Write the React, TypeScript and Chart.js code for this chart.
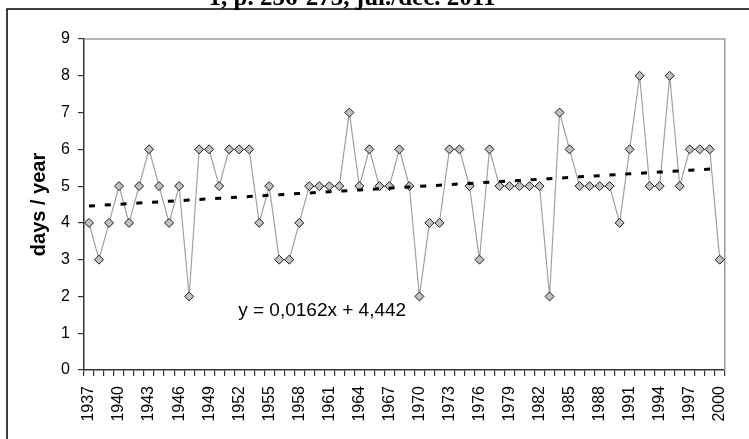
import React, { useEffect, useRef } from 'react';
import { Chart, registerables } from 'chart.js';

Chart.register(...registerables);

const years = [
  '1937','1938','1939','1940','1941','1942','1943','1944','1945','1946',
  '1947','1948','1949','1950','1951','1952','1953','1954','1955','1956',
  '1957','1958','1959','1960','1961','1962','1963','1964','1965','1966',
  '1967','1968','1969','1970','1971','1972','1973','1974','1975','1976',
  '1977','1978','1979','1980','1981','1982','1983','1984','1985','1986',
  '1987','1988','1989','1990','1991','1992','1993','1994','1995','1996',
  '1997','1998','1999','2000',
];

const daysPerYear = [
  4, 3, 4, 5, 4, 5, 6, 5, 4, 5,
  2, 6, 6, 5, 6, 6, 6, 4, 5, 3,
  3, 4, 5, 5, 5, 5, 7, 5, 6, 5,
  5, 6, 5, 2, 4, 4, 6, 6, 5, 3,
  6, 5, 5, 5, 5, 5, 2, 7, 6, 5,
  5, 5, 5, 4, 6, 8, 5, 5, 8, 5,
  6, 6, 6, 3,
];

const xTickLabels = [
  '1937','1940','1943','1946','1949','1952','1955','1958','1961','1964','1967',
  '1970','1973','1976','1979','1982','1985','1988','1991','1994','1997','2000',
];

const yTicks = [0, 1, 2, 3, 4, 5, 6, 7, 8, 9];

const trendSlope = 0.0162;
const trendIntercept = 4.442;
const equationText = 'y = 0,0162x + 4,442';
const yAxisTitle = 'days / year';
const headerText = '1, p. 256-273, jul./dec. 2011';

const trendValues = years.map((_, i) => trendSlope * (i + 1) + trendIntercept);

const SANS = '"Liberation Sans", Arial, sans-serif';

export default function App() {
  const canvasRef = useRef<HTMLCanvasElement | null>(null);

  useEffect(() => {
    const canvas = canvasRef.current;
    if (!canvas) return;

    const decorPlugin = {
      id: 'decor',
      beforeDatasetsDraw(chart: any) {
        const { ctx, chartArea } = chart;
        ctx.save();
        ctx.strokeStyle = '#9a9a9a';
        ctx.lineWidth = 1.5;
        ctx.beginPath();
        ctx.moveTo(chartArea.left, chartArea.top);
        ctx.lineTo(chartArea.right, chartArea.top);
        ctx.lineTo(chartArea.right, chartArea.bottom);
        ctx.stroke();
        ctx.restore();
      },
      afterDraw(chart: any) {
        const { ctx, scales } = chart;
        ctx.save();
        // outer chart border
        ctx.strokeStyle = '#000';
        ctx.lineWidth = 1.5;
        ctx.strokeRect(7, 9, 820, 520);
        // header text (cropped at the top)
        ctx.fillStyle = '#000';
        ctx.font = 'bold 25px "Liberation Serif", "Times New Roman", serif';
        ctx.textAlign = 'center';
        ctx.textBaseline = 'alphabetic';
        ctx.fillText(headerText, 352, 5);
        // regression equation
        ctx.font = `19px ${SANS}`;
        ctx.textAlign = 'left';
        ctx.textBaseline = 'middle';
        ctx.fillText(equationText, scales.x.getPixelForValue(14.9), scales.y.getPixelForValue(1.6));
        ctx.restore();
      },
    };

    const chart = new Chart(canvas, {
      type: 'line',
      data: {
        labels: years,
        datasets: [
          {
            label: 'trend',
            data: trendValues,
            borderColor: '#000',
            borderWidth: 3,
            borderDash: [6, 9.8],
            pointRadius: 0,
            fill: false,
            tension: 0,
            order: 0,
          },
          {
            label: 'days',
            data: daysPerYear,
            borderColor: '#a0a0a0',
            borderWidth: 1.2,
            pointStyle: 'rectRot',
            pointRadius: 4.5,
            pointBackgroundColor: '#c0c0c0',
            pointBorderColor: '#1a1a1a',
            pointBorderWidth: 1,
            fill: false,
            tension: 0,
            order: 1,
          },
        ],
      },
      options: {
        responsive: false,
        animation: false,
        layout: { padding: { top: 39, left: 0, right: 1, bottom: 0 } },
        plugins: { legend: { display: false }, tooltip: { enabled: false }, title: { display: false } },
        scales: {
          x: {
            type: 'category',
            offset: true,
            grid: { offset: true, drawOnChartArea: false, drawTicks: true, tickLength: 6, tickColor: '#333', lineWidth: 1.2 },
            border: { display: true, color: '#333', width: 1.5 },
            ticks: {
              autoSkip: false,
              minRotation: 90,
              maxRotation: 90,
              padding: 10,
              color: '#000',
              font: { family: SANS, size: 16 },
              callback: (_v: any, i: number) => (xTickLabels.includes(years[i]) ? years[i] : ''),
            },
            afterFit: (s: any) => { s.height = 69; },
          },
          y: {
            min: yTicks[0],
            max: yTicks[yTicks.length - 1],
            afterBuildTicks: (s: any) => { s.ticks = yTicks.map((v) => ({ value: v })); },
            grid: { drawOnChartArea: false, drawTicks: true, tickLength: 6, tickColor: '#333', lineWidth: 1.2 },
            border: { display: true, color: '#333', width: 1.5 },
            ticks: { padding: 8, color: '#000', font: { family: SANS, size: 16 } },
            title: {
              display: true,
              text: yAxisTitle,
              color: '#000',
              font: { family: SANS, size: 20, weight: 'bold' },
              padding: { top: 27, bottom: 0 },
            },
            afterFit: (s: any) => { s.width = 84; },
          },
        },
      },
      plugins: [decorPlugin],
    });

    return () => chart.destroy();
  }, []);

  return (
    <div style={{ position: 'absolute', left: 0, top: 0, width: 749, height: 439, overflow: 'hidden', background: '#fff' }}>
      <canvas ref={canvasRef} width={749} height={439} style={{ display: 'block' }} />
    </div>
  );
}
